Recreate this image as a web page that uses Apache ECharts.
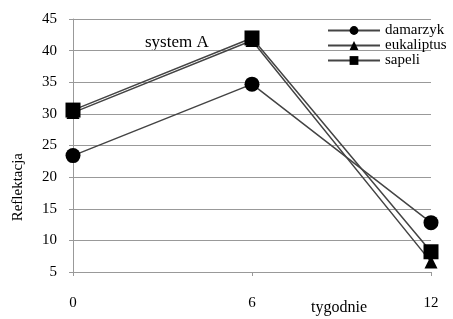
<!DOCTYPE html>
<html>
<head>
<meta charset="utf-8">
<script src="https://cdn.jsdelivr.net/npm/echarts@6/dist/echarts.min.js"></script>
<style>
  html, body { margin: 0; padding: 0; background: #fff; }
  #chart { width: 453px; height: 319px; }
</style>
</head>
<body>
<div id="chart"></div>
<script>
// tygodnie (weeks) on the x axis
var weeks = [0, 6, 12]
var damarzyk = [23.4, 34.7, 12.8]
var eukaliptus = [30.2, 41.6, 6.6]
var sapeli = [30.6, 42.0, 8.2]
var yTicks = [5, 10, 15, 20, 25, 30, 35, 40, 45]

function pairs (vals) {
  var out = []
  for (var i = 0; i < weeks.length; i++) out.push([weeks[i], vals[i]])
  return out
}

var font = 'Liberation Serif'
var lineStyle = { color: '#444', width: 1.5 }

var chart = echarts.init(document.getElementById('chart'))
chart.setOption({
  animation: false,
  textStyle: { fontFamily: font, color: '#000' },
  grid: { left: 73, right: 22, top: 19, bottom: 47 },
  legend: {
    orient: 'vertical',
    left: 322,
    top: 18,
    itemWidth: 52,
    itemHeight: 11,
    itemGap: 0,
    textStyle: { fontFamily: font, fontSize: 15, color: '#000' },
    data: ['damarzyk', 'eukaliptus', 'sapeli']
  },
  xAxis: {
    type: 'value',
    min: 0,
    max: 12,
    interval: 6,
    axisLine: { lineStyle: { color: '#999' } },
    axisTick: { show: true, length: 4, lineStyle: { color: '#999' } },
    splitLine: { show: false },
    axisLabel: { margin: 24, fontSize: 15, fontFamily: font, color: '#000' }
  },
  yAxis: {
    type: 'value',
    min: yTicks[0],
    max: yTicks[yTicks.length - 1],
    interval: 5,
    axisLine: { show: true, lineStyle: { color: '#999' } },
    axisTick: { show: true, length: 4, lineStyle: { color: '#999' } },
    splitLine: { lineStyle: { color: '#999' } },
    axisLabel: { margin: 16, fontSize: 15, fontFamily: font, color: '#000' }
  },
  graphic: [
    { type: 'text', left: 11, top: 153, rotation: Math.PI / 2,
      style: { text: 'Reflektacja', font: '15px "Liberation Serif"', fill: '#000' } },
    { type: 'text', left: 311, top: 300,
      style: { text: 'tygodnie', font: '16px "Liberation Serif"', fill: '#000' } },
    { type: 'text', left: 145, top: 34,
      style: { text: 'system A', font: '17px "Liberation Serif"', fill: '#000' } }
  ],
  series: [
    { name: 'damarzyk', type: 'line', data: pairs(damarzyk), symbol: 'circle', symbolSize: 15,
      itemStyle: { color: '#000' }, lineStyle: lineStyle },
    { name: 'eukaliptus', type: 'line', data: pairs(eukaliptus), symbol: 'triangle', symbolSize: 13,
      itemStyle: { color: '#000' }, lineStyle: lineStyle },
    { name: 'sapeli', type: 'line', data: pairs(sapeli), symbol: 'rect', symbolSize: 15,
      itemStyle: { color: '#000' }, lineStyle: lineStyle }
  ]
})
</script>
</body>
</html>
